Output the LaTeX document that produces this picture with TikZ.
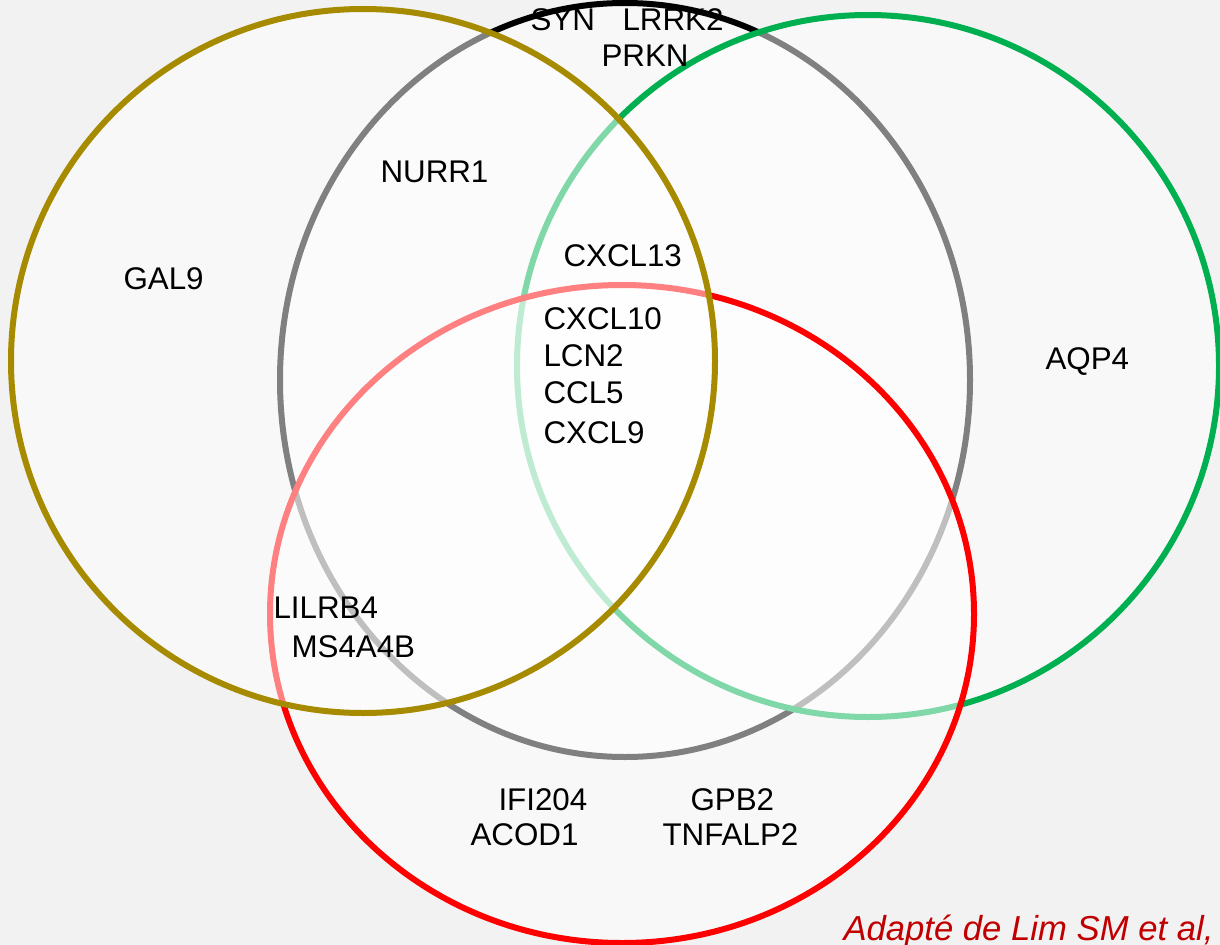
\documentclass[tikz,border=0pt]{standalone}
\usepackage{fontspec}
\setmainfont{Liberation Sans}
\tikzset{every picture/.style={line width=0.75pt}}
\tikzset{
  gene/.style={anchor=base west, inner sep=0pt, font=\fontsize{23.5}{28}\selectfont},
  setring/.style={line width=4.5pt, fill=white, fill opacity=0.5, draw opacity=1}
}

\begin{document}
\begin{tikzpicture}[x=0.75pt,y=0.75pt,yscale=-1,xscale=1]
\useasboundingbox (0,0) rectangle (1220,945);
%Shape: Rectangle (background)
\fill [color={rgb, 255:red, 242; green, 242; blue, 242 }] (0,0) rectangle (1220,945) ;

%Shape: Ellipse (black set)
\draw [setring, color={rgb, 255:red, 0; green, 0; blue, 0 }, fill=white] (625,380) ellipse [x radius=345, y radius=377] ;
%Shape: Circle (green set)
\draw [setring, color={rgb, 255:red, 0; green, 176; blue, 80 }, fill=white] (868,366) circle [radius=351] ;
%Shape: Ellipse (red set)
\draw [setring, color={rgb, 255:red, 255; green, 0; blue, 0 }, fill=white] (622,614) ellipse [x radius=352, y radius=329] ;
%Shape: Circle (gold set)
\draw [setring, color={rgb, 255:red, 166; green, 138; blue, 0 }, fill=white] (363,361) circle [radius=352] ;

% Text Node
\node [gene] (syn) at (530,31) {SYN};
% Text Node
\node [gene] (lrrk) at (622,31) {LRRK2};
% Text Node
\node [gene] (prkn) at (601,67) {PRKN};
% Text Node
\node [gene] (nurr) at (380,183) {NURR1};
% Text Node
\node [gene] (gal) at (123,289) {GAL9};
% Text Node
\node [gene] (cxcl13) at (563,266) {CXCL13};
% Text Node
\node [gene] (cxcl10) at (543,329) {CXCL10};
% Text Node
\node [gene] (lcn) at (543,366) {LCN2};
% Text Node
\node [gene] (ccl) at (543,403) {CCL5};
% Text Node
\node [gene] (cxcl9) at (543,443) {CXCL9};
% Text Node
\node [gene] (aqp) at (1045,369) {AQP4};
% Text Node
\node [gene] (lilrb) at (273,618) {LILRB4};
% Text Node
\node [gene] (ms4a) at (291,657) {MS4A4B};
% Text Node
\node [gene] (ifi) at (498,810) {IFI204};
% Text Node
\node [gene] (acod) at (470,845) {ACOD1};
% Text Node
\node [gene] (gpb) at (690,810) {GPB2};
% Text Node
\node [gene] (tnf) at (662,845) {TNFALP2};
% Text Node
\node [anchor=base west, inner sep=0pt, font=\fontsize{26}{31}\selectfont\itshape, color={rgb, 255:red, 192; green, 0; blue, 0 }] (source) at (843,940) {Adapté de Lim SM et al,};

\end{tikzpicture}
\end{document}
